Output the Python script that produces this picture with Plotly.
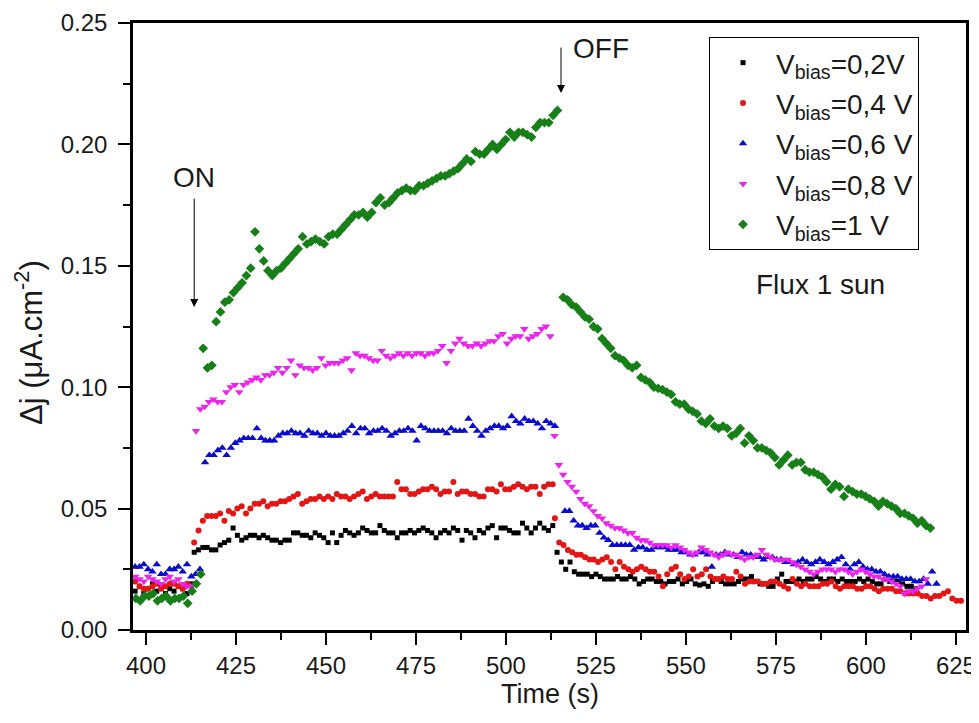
import plotly.graph_objects as go

# ---------------- data ----------------
T_STEP = 1.2  # sampling interval (s)

LEGEND_NAMES = ["V<sub>bias</sub>=0,2V", "V<sub>bias</sub>=0,4 V", "V<sub>bias</sub>=0,6 V",
                "V<sub>bias</sub>=0,8 V", "V<sub>bias</sub>=1 V"]

# segment start times: [dark before ON, illuminated, after OFF]
BLACK_T0 = [397.0, 413.4, 514.2]
BLACK_PRE = [0.016, 0.018, 0.015, 0.017, 0.019, 0.016, 0.018, 0.015, 0.017, 0.016, 0.018, 0.017, 0.015, 0.019]
BLACK_ON = [0.032, 0.033, 0.034, 0.034, 0.033, 0.033, 0.035, 0.036, 0.037, 0.042, 0.039, 0.037, 0.038, 0.039,
            0.039, 0.038, 0.039, 0.038, 0.037, 0.037, 0.036, 0.037, 0.037, 0.040, 0.040, 0.039, 0.039, 0.038,
            0.040, 0.039, 0.038, 0.036, 0.040, 0.036, 0.039, 0.041, 0.040, 0.039, 0.040, 0.042, 0.041, 0.040,
            0.040, 0.043, 0.041, 0.040, 0.040, 0.038, 0.040, 0.040, 0.041, 0.040, 0.041, 0.042, 0.041, 0.040,
            0.038, 0.040, 0.041, 0.040, 0.042, 0.041, 0.037, 0.041, 0.040, 0.038, 0.041, 0.040, 0.042, 0.043,
            0.038, 0.042, 0.042, 0.041, 0.040, 0.040, 0.044, 0.042, 0.040, 0.042, 0.044, 0.042, 0.041, 0.043]
BLACK_OFF = [0.032, 0.028, 0.025, 0.028, 0.024, 0.023, 0.023, 0.023, 0.022, 0.023, 0.022, 0.021, 0.021, 0.021,
             0.022, 0.021, 0.021, 0.022, 0.021, 0.019, 0.020, 0.021, 0.021, 0.020, 0.020, 0.019, 0.020, 0.020,
             0.021, 0.019, 0.020, 0.021, 0.019, 0.0185, 0.019, 0.018, 0.020, 0.021, 0.020, 0.019, 0.019, 0.019,
             0.020, 0.021, 0.021, 0.022, 0.020, 0.019, 0.019, 0.018, 0.018, 0.021, 0.023, 0.020, 0.020, 0.020,
             0.021, 0.020, 0.021, 0.021, 0.022, 0.021, 0.020, 0.021, 0.021, 0.020, 0.021, 0.020, 0.020, 0.020,
             0.021, 0.020, 0.021, 0.020, 0.019, 0.019, 0.021, 0.020, 0.020, 0.020, 0.019, 0.018, 0.018, 0.017]

RED_T0 = [397.0, 413.4, 513.6]
RED_PRE = [0.020, 0.018, 0.017, 0.017, 0.018, 0.019, 0.017, 0.018, 0.019, 0.019, 0.018, 0.017, 0.019, 0.018]
RED_ON = [0.036, 0.041, 0.045, 0.047, 0.047, 0.047, 0.048, 0.045, 0.049, 0.048, 0.050, 0.051, 0.048, 0.050,
          0.052, 0.052, 0.053, 0.051, 0.052, 0.052, 0.053, 0.053, 0.054, 0.055, 0.056, 0.052, 0.053, 0.054,
          0.054, 0.055, 0.054, 0.055, 0.054, 0.056, 0.055, 0.055, 0.054, 0.055, 0.056, 0.057, 0.054, 0.055,
          0.056, 0.055, 0.055, 0.055, 0.055, 0.061, 0.058, 0.058, 0.056, 0.056, 0.057, 0.058, 0.058, 0.059,
          0.058, 0.056, 0.057, 0.057, 0.061, 0.056, 0.057, 0.057, 0.056, 0.056, 0.055, 0.055, 0.058, 0.058,
          0.057, 0.060, 0.058, 0.058, 0.059, 0.060, 0.059, 0.058, 0.059, 0.059, 0.056, 0.059, 0.060, 0.060]
RED_OFF = [0.046, 0.036, 0.035, 0.033, 0.032, 0.031, 0.031, 0.030, 0.029, 0.029, 0.028, 0.029, 0.030, 0.028,
           0.025, 0.028, 0.026, 0.025, 0.024, 0.025, 0.026, 0.025, 0.024, 0.024, 0.022, 0.018, 0.023, 0.025,
           0.026, 0.023, 0.021, 0.022, 0.025, 0.022, 0.023, 0.025, 0.022, 0.021, 0.021, 0.022, 0.021, 0.021,
           0.024, 0.022, 0.019, 0.020, 0.020, 0.020, 0.019, 0.019, 0.020, 0.020, 0.019, 0.018, 0.017, 0.021,
           0.019, 0.018, 0.019, 0.018, 0.018, 0.018, 0.019, 0.019, 0.020, 0.018, 0.017, 0.018, 0.018, 0.018,
           0.017, 0.017, 0.018, 0.018, 0.017, 0.016, 0.017, 0.017, 0.017, 0.016, 0.016, 0.015, 0.015, 0.015,
           0.015, 0.014, 0.014, 0.013, 0.014, 0.014, 0.015, 0.016, 0.013, 0.012, 0.012]

BLUE_T0 = [397.0, 416.4, 516.4]
BLUE_PRE = [0.026, 0.026, 0.027, 0.025, 0.024, 0.027, 0.023, 0.023, 0.025, 0.025, 0.026, 0.024, 0.027, 0.022,
            0.023, 0.025]
BLUE_ON = [0.069, 0.072, 0.072, 0.074, 0.075, 0.072, 0.075, 0.077, 0.078, 0.079, 0.079, 0.079, 0.083, 0.079,
           0.078, 0.078, 0.078, 0.080, 0.081, 0.081, 0.082, 0.081, 0.081, 0.080, 0.082, 0.081, 0.081, 0.080,
           0.081, 0.080, 0.080, 0.080, 0.081, 0.082, 0.084, 0.081, 0.083, 0.083, 0.081, 0.082, 0.082, 0.083,
           0.082, 0.080, 0.081, 0.082, 0.082, 0.083, 0.082, 0.078, 0.084, 0.083, 0.082, 0.082, 0.082, 0.082,
           0.081, 0.083, 0.082, 0.082, 0.082, 0.087, 0.084, 0.082, 0.080, 0.082, 0.083, 0.084, 0.084, 0.083,
           0.084, 0.088, 0.086, 0.085, 0.087, 0.086, 0.086, 0.085, 0.083, 0.086, 0.085, 0.084]
BLUE_OFF = [0.049, 0.049, 0.045, 0.043, 0.043, 0.042, 0.043, 0.043, 0.040, 0.038, 0.037, 0.035, 0.035, 0.035,
            0.035, 0.035, 0.033, 0.034, 0.034, 0.033, 0.033, 0.034, 0.034, 0.034, 0.033, 0.033, 0.033, 0.032,
            0.032, 0.031, 0.031, 0.032, 0.032, 0.031, 0.026, 0.031, 0.031, 0.032, 0.031, 0.031, 0.030, 0.032,
            0.031, 0.031, 0.030, 0.030, 0.029, 0.030, 0.030, 0.029, 0.029, 0.028, 0.028, 0.027, 0.028, 0.029,
            0.028, 0.027, 0.028, 0.029, 0.028, 0.027, 0.028, 0.029, 0.030, 0.027, 0.025, 0.027, 0.028, 0.026,
            0.025, 0.025, 0.024, 0.024, 0.023, 0.022, 0.022, 0.022, 0.021, 0.021, 0.021, 0.020, 0.020, 0.021,
            0.019, 0.024, 0.019]

MAGENTA_T0 = [397.0, 413.9, 514.7]
MAGENTA_PRE = [0.022, 0.021, 0.020, 0.022, 0.021, 0.020, 0.019, 0.021, 0.022, 0.020, 0.021, 0.019, 0.018, 0.018]
MAGENTA_ON = [0.082, 0.091, 0.092, 0.094, 0.095, 0.094, 0.094, 0.098, 0.100, 0.101, 0.098, 0.101, 0.102, 0.103,
              0.104, 0.103, 0.105, 0.105, 0.106, 0.108, 0.106, 0.108, 0.111, 0.105, 0.109, 0.108, 0.108, 0.107,
              0.108, 0.112, 0.109, 0.110, 0.110, 0.110, 0.111, 0.112, 0.107, 0.114, 0.113, 0.113, 0.112, 0.111,
              0.111, 0.115, 0.113, 0.112, 0.113, 0.114, 0.113, 0.114, 0.113, 0.114, 0.114, 0.113, 0.114, 0.114,
              0.115, 0.117, 0.110, 0.115, 0.118, 0.120, 0.118, 0.117, 0.117, 0.118, 0.117, 0.118, 0.119, 0.119,
              0.121, 0.122, 0.118, 0.120, 0.121, 0.121, 0.124, 0.120, 0.121, 0.122, 0.124, 0.125, 0.121, 0.080]
MAGENTA_OFF = [0.068, 0.064, 0.061, 0.059, 0.057, 0.054, 0.052, 0.051, 0.049, 0.047, 0.046, 0.044, 0.043, 0.042,
               0.042, 0.041, 0.040, 0.040, 0.038, 0.037, 0.037, 0.036, 0.035, 0.035, 0.035, 0.035, 0.034, 0.035,
               0.034, 0.033, 0.032, 0.031, 0.032, 0.034, 0.033, 0.032, 0.031, 0.030, 0.031, 0.032, 0.031, 0.031,
               0.030, 0.029, 0.030, 0.030, 0.031, 0.033, 0.031, 0.030, 0.029, 0.029, 0.029, 0.029, 0.028, 0.027,
               0.026, 0.025, 0.024, 0.023, 0.024, 0.025, 0.025, 0.025, 0.024, 0.025, 0.025, 0.024, 0.023, 0.024,
               0.025, 0.024, 0.023, 0.022, 0.022, 0.021, 0.021, 0.020, 0.019, 0.018, 0.015, 0.016, 0.016, 0.017,
               0.018, 0.021]

GREEN_T0 = [397.2, 415.9, 515.9]
GREEN_PRE = [0.013, 0.012, 0.014, 0.014, 0.015, 0.012, 0.013, 0.014, 0.012, 0.013, 0.013, 0.014, 0.011, 0.016,
             0.019, 0.023]
GREEN_ON = [0.116, 0.108, 0.109, 0.127, 0.131, 0.135, 0.136, 0.139, 0.141, 0.143, 0.146, 0.149, 0.164, 0.157,
            0.152, 0.148, 0.146, 0.148, 0.149, 0.151, 0.153, 0.155, 0.157, 0.162, 0.159, 0.160, 0.161, 0.160,
            0.159, 0.162, 0.163, 0.163, 0.165, 0.167, 0.169, 0.171, 0.171, 0.172, 0.170, 0.172, 0.176, 0.178,
            0.175, 0.176, 0.178, 0.180, 0.181, 0.182, 0.181, 0.181, 0.183, 0.183, 0.184, 0.185, 0.186, 0.187,
            0.187, 0.188, 0.189, 0.190, 0.192, 0.194, 0.193, 0.197, 0.196, 0.196, 0.198, 0.200, 0.198, 0.200,
            0.202, 0.205, 0.203, 0.205, 0.205, 0.204, 0.203, 0.207, 0.209, 0.209, 0.209, 0.212, 0.214]
GREEN_OFF = [0.137, 0.136, 0.134, 0.133, 0.131, 0.129, 0.128, 0.125, 0.124, 0.120, 0.118, 0.116, 0.113, 0.112,
             0.111, 0.109, 0.108, 0.109, 0.104, 0.103, 0.102, 0.100, 0.0995, 0.099, 0.098, 0.097, 0.094, 0.093,
             0.093, 0.091, 0.090, 0.089, 0.086, 0.085, 0.087, 0.084, 0.083, 0.084, 0.083, 0.080, 0.081, 0.083,
             0.077, 0.080, 0.078, 0.075, 0.075, 0.074, 0.073, 0.071, 0.068, 0.070, 0.072, 0.068, 0.069, 0.069,
             0.066, 0.065, 0.065, 0.064, 0.063, 0.061, 0.058, 0.060, 0.059, 0.055, 0.058, 0.057, 0.056, 0.056,
             0.055, 0.054, 0.053, 0.051, 0.053, 0.052, 0.051, 0.050, 0.048, 0.048, 0.047, 0.046, 0.044, 0.045,
             0.043, 0.042]

X_TICKS = [400, 425, 450, 475, 500, 525, 550, 575, 600, 625]
Y_TICKS = [0.00, 0.05, 0.10, 0.15, 0.20, 0.25]

# ---------------- figure ----------------
FONT = "Liberation Sans, Arial, sans-serif"
TXT = "#1a1a1a"


def seg_times(t0, n):
    return [round(t0 + T_STEP * i, 3) for i in range(n)]


def build(t0s, segs):
    xs, ys = [], []
    for t0, vals in zip(t0s, segs):
        xs += seg_times(t0, len(vals))
        ys += list(vals)
    return xs, ys


series = [
    (BLACK_T0, [BLACK_PRE, BLACK_ON, BLACK_OFF], "#000000", "square", 5),
    (RED_T0, [RED_PRE, RED_ON, RED_OFF], "#e31515", "circle", 6),
    (BLUE_T0, [BLUE_PRE, BLUE_ON, BLUE_OFF], "#0a0ad0", "triangle-up", 7.5),
    (MAGENTA_T0, [MAGENTA_PRE, MAGENTA_ON, MAGENTA_OFF], "#ee22ee", "triangle-down", 7.5),
    (GREEN_T0, [GREEN_PRE, GREEN_ON, GREEN_OFF], "#177f17", "diamond", 7.5),
]

fig = go.Figure()
for name, (t0s, segs, color, symbol, size) in zip(LEGEND_NAMES, series):
    xs, ys = build(t0s, segs)
    fig.add_trace(go.Scatter(
        x=xs, y=ys, mode="markers", name=name, legendgroup=name,
        marker=dict(symbol=symbol, size=size, color=color, line=dict(width=0)),
    ))

axis_common = dict(
    showgrid=False, zeroline=False, showline=True, linecolor="black", linewidth=2.5,
    mirror=True, ticks="outside", ticklen=12, tickwidth=2, tickcolor="black",
    tickfont=dict(family=FONT, size=24, color=TXT), automargin=False,
)

fig.update_xaxes(
    range=[396.4, 627.8], tickmode="array", tickvals=X_TICKS,
    ticktext=[str(v) for v in X_TICKS], ticklabelstandoff=0,
    minor=dict(ticks="outside", ticklen=7, tickwidth=2, tickcolor="black", dtick=12.5, tick0=400),
    **axis_common,
)
fig.update_yaxes(
    range=[0, 0.25], tickmode="array", tickvals=Y_TICKS,
    ticktext=[f"{v:.2f}" for v in Y_TICKS], ticklabelstandoff=6,
    minor=dict(ticks="outside", ticklen=7, tickwidth=2, tickcolor="black", dtick=0.025, tick0=0),
    **axis_common,
)

# the page body adds an 8 px offset, so margins are shifted to keep the plot where the reference has it
fig.update_layout(
    width=979, height=723,
    margin=dict(l=125, r=21, t=15, b=101),
    paper_bgcolor="white", plot_bgcolor="white",
    showlegend=True,
    legend=dict(
        x=0.6915, y=0.977, xanchor="left", yanchor="top",
        bgcolor="white", bordercolor="black", borderwidth=1,
        font=dict(family=FONT, size=28, color=TXT),
        itemwidth=56, tracegroupgap=1,
    ),
    annotations=[
        dict(x=0.5, y=-0.1054, xref="paper", yref="paper", text="Time (s)", showarrow=False,
             xanchor="center", yanchor="middle", font=dict(family=FONT, size=27, color=TXT)),
        dict(x=-0.1249, y=0.4745, xref="paper", yref="paper", text="Δj (μA.cm<sup>-2</sup>)",
             textangle=-90, showarrow=False, xanchor="center", yanchor="middle",
             font=dict(family=FONT, size=31, color=TXT)),
        dict(x=413.4, y=0.1862, xref="x", yref="y", text="ON", showarrow=False,
             font=dict(family=FONT, size=28, color=TXT)),
        dict(x=413.4, y=0.133, ax=413.4, ay=0.1783, xref="x", yref="y", axref="x", ayref="y",
             text="", showarrow=True, arrowhead=2, arrowsize=1.6, arrowwidth=1, arrowcolor="black"),
        dict(x=526.3, y=0.2395, xref="x", yref="y", text="OFF", showarrow=False,
             font=dict(family=FONT, size=28, color=TXT)),
        dict(x=515.3, y=0.2212, ax=515.3, ay=0.2405, xref="x", yref="y", axref="x", ayref="y",
             text="", showarrow=True, arrowhead=2, arrowsize=1.6, arrowwidth=1, arrowcolor="black"),
        dict(x=587.5, y=0.1425, xref="x", yref="y", text="Flux 1 sun", showarrow=False,
             font=dict(family=FONT, size=28, color=TXT)),
    ],
)

fig.write_html("out.html")
